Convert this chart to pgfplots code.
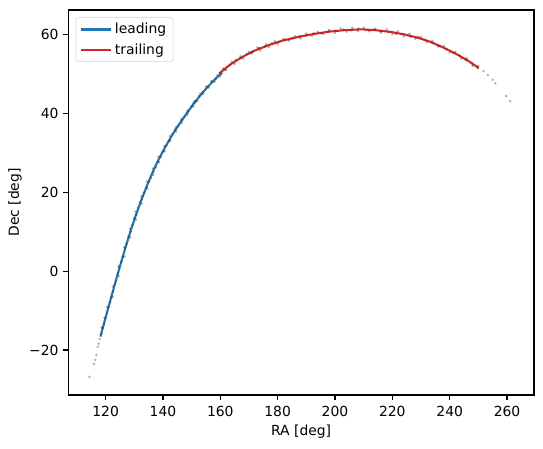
\documentclass[border=0pt]{standalone}
\usepackage{pgfplots}
\pgfplotsset{compat=1.18}
\usepackage{fontspec}
\setmainfont{DejaVu Sans}
\definecolor{mblue}{HTML}{1F77B4}
\definecolor{mred}{HTML}{D62728}
\begin{document}
\begin{tikzpicture}
\begin{axis}[
  at={(0,0)}, anchor=south west,
  scale only axis, width=335.3pt, height=277.2pt,
  xmin=107, xmax=269.4, ymin=-31.4, ymax=66.2,
  xtick={120,140,160,180,200,220,240,260},
  xticklabels={120,140,160,180,200,220,240,260},
  ytick={-20,0,20,40,60},
  yticklabels={−20,0,20,40,60},
  tick align=outside, tick pos=left, major tick length=3.5pt,
  tick style={black, line width=0.8pt},
  axis line style={line width=0.8pt},
  ticklabel style={font=\fontsize{10}{12}\selectfont},
  xticklabel style={yshift=-1pt},
  label style={font=\fontsize{10}{12}\selectfont},
  xlabel={RA [deg]}, ylabel={Dec [deg]},
  x label style={at={(axis description cs:0.5,-0.096)}, anchor=center},
  y label style={at={(axis description cs:-0.1145,0.5)}, anchor=center},
  legend style={at={(axis description cs:0,1)}, anchor=north west, xshift=5.3pt, yshift=-5.3pt,
    draw=black!18, rounded corners=2pt, font=\fontsize{10}{12}\selectfont,
    inner xsep=3pt, inner ysep=2pt, row sep=1.5pt},
  legend cell align=left,
  legend image code/.code={\draw[#1, line width=1.5pt] (0pt,0pt) -- (21.6pt,0pt);},
]
\addplot[only marks, mark=*, mark size=0.7pt, draw=none, fill=black!45, opacity=0.28, forget plot] table {
x y
114.4 -26.8
115.9 -23.5
116.4 -22.5
116.8 -21.3
117.3 -19.2
117.6 -18.4
118.0 -17.2
118.6 -15.9
119.0 -14.4
119.5 -13.4
119.9 -12.0
120.5 -10.6
121.0 -9.0
121.6 -7.9
122.0 -6.6
122.6 -5.2
123.2 -3.3
123.6 -2.5
124.3 -0.6
124.8 0.9
125.5 2.4
126.0 3.6
126.7 5.8
127.2 6.9
127.9 8.8
128.6 10.0
129.2 11.6
129.9 13.4
130.6 14.3
131.3 16.0
132.0 17.5
132.7 18.3
133.5 19.9
134.3 21.3
135.1 22.6
135.8 23.6
136.7 25.1
137.5 26.3
138.4 27.7
139.3 28.9
140.2 30.3
141.2 31.8
142.1 33.0
143.2 34.7
144.2 35.9
145.3 36.9
146.5 38.2
147.6 39.1
148.8 40.4
150.0 41.8
151.3 43.0
152.6 44.4
154.0 45.5
155.4 46.9
156.9 48.0
158.4 48.8
160.0 50.2
161.6 51.0
163.4 52.2
165.3 53.5
167.2 54.0
169.2 55.1
171.3 55.7
173.5 56.6
175.7 57.0
178.0 57.8
180.3 58.1
182.7 58.7
185.1 59.0
187.6 59.6
190.0 59.8
192.6 60.3
195.2 60.3
197.8 60.9
200.4 60.9
203.0 61.3
205.6 61.0
208.2 61.5
210.8 61.1
213.4 61.2
216.0 60.8
218.6 60.7
221.2 60.1
223.8 60.1
226.4 59.4
229.0 59.4
231.5 58.5
234.0 57.9
236.4 57.1
238.8 56.3
241.1 55.4
243.4 54.7
245.6 53.5
247.8 52.6
249.9 51.4
251.8 50.7
253.3 49.7
255.0 48.5
255.9 47.6
259.7 44.4
261.1 43.1
118.6 -14.3
119.6 -11.8
120.5 -9.15
122.5 -6.5
122.5 -3.9
124.6 -1.3
124.5 1.25
126.6 3.7
126.4 6.1
128.6 8.5
128.5 10.8
130.6 13.0
130.4 15.1
132.6 17.1
132.5 19.0
134.6 20.9
134.4 22.7
136.6 24.4
136.5 26.0
138.6 27.6
138.4 29.0
140.6 30.4
140.5 31.7
142.6 33.0
142.4 34.2
144.6 35.4
144.5 36.5
146.6 37.6
146.4 38.6
148.6 39.7
148.5 40.7
150.6 41.7
150.5 42.65
151.0 43.1
152.0 43.1
153.0 45.0
154.0 44.9
155.0 46.7
156.0 46.5
157.0 48.2
158.0 48.0
159.0 49.7
160.0 49.4
161.0 51.4
162.0 51.0
164.0 53.1
165.0 52.5
167.0 54.5
168.0 53.9
170.0 55.6
171.0 55.1
173.0 56.7
174.0 55.9
176.0 57.5
177.0 56.8
179.0 58.3
180.0 57.5
182.0 58.9
184.0 58.4
186.0 59.6
188.0 59.0
190.0 60.2
192.0 59.6
194.0 60.7
196.0 60.1
198.0 61.1
200.0 60.4
202.0 61.5
204.0 60.7
206.0 61.7
208.0 60.8
210.0 61.7
212.0 60.8
214.0 61.5
216.0 60.4
218.0 61.3
220.0 60.1
222.0 60.8
224.0 59.5
226.0 60.2
228.0 58.9
230.0 59.4
232.0 58.0
234.0 58.4
236.0 56.9
238.0 57.1
240.0 55.4
242.0 55.6
244.0 53.9
246.0 54.0
248.0 52.0
250.0 52.0
};
\addplot[mblue, line width=1.5pt] table {
x y
118.2 -16.6
120 -11.8
122 -6.5
124 -1.3
126 3.7
128 8.5
130 13.0
132 17.1
134 20.9
136 24.4
138 27.6
140 30.4
142 33.0
144 35.4
146 37.6
148 39.7
150 41.7
152 43.6
154 45.4
156 47.0
158 48.5
160 49.9
160.7 50.3
};
\addlegendentry{leading}
\addplot[mred, line width=1.5pt] table {
x y
159.6 50.1
163.5 52.4
167.7 54.3
172.0 55.9
176.9 57.3
182.0 58.5
187.4 59.4
192.5 60.1
197.8 60.7
203.5 61.1
209.3 61.3
214.5 61.05
219.8 60.6
224.5 59.95
229.0 59.15
233.0 58.2
237.1 56.9
240.0 55.9
242.9 54.8
246.5 53.3
250.1 51.5
};
\addlegendentry{trailing}
\end{axis}
\pgfresetboundingbox
\path (-49.2pt,-38.2pt) rectangle (341.8pt,284.4pt);
\end{tikzpicture}
\end{document}
